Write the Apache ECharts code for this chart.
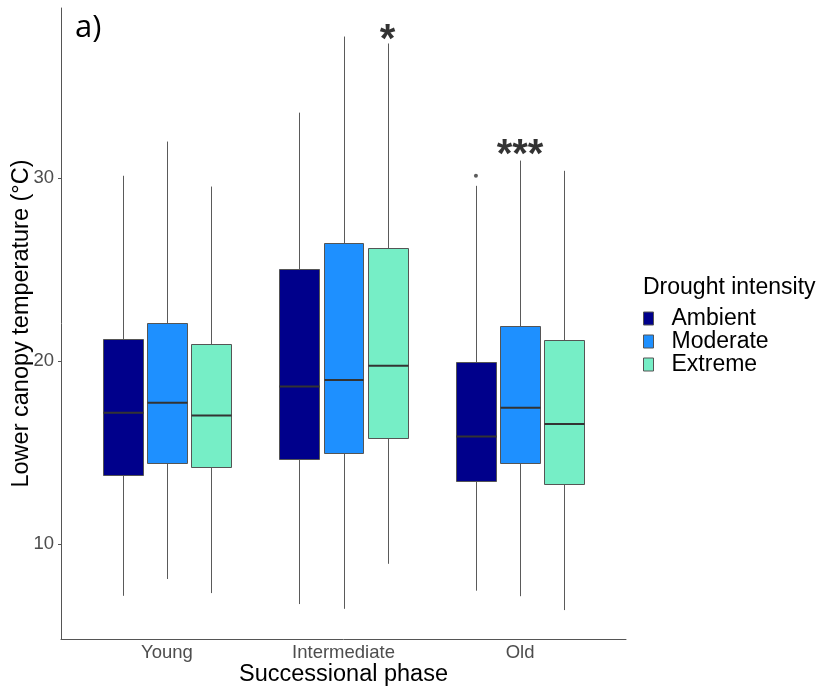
<!DOCTYPE html>
<html>
<head>
<meta charset="utf-8">
<script src="https://cdn.jsdelivr.net/npm/echarts@6/dist/echarts.min.js"></script>
<style>
  html, body { margin: 0; padding: 0; background: #fff; }
  #chart { width: 826px; height: 691px; }
</style>
</head>
<body>
<div id="chart"></div>
<script>
// Successional phases on the x axis
const categories = ['Young', 'Intermediate', 'Old'];
// Drought treatments, one box per phase each
const groups = ['Ambient', 'Moderate', 'Extreme'];
const groupColors = ['#00008B', '#1E90FF', '#76EEC6'];

// Five-number summaries per phase: [lower whisker, Q1, median, Q3, upper whisker] (°C)
const ambient = [
  [7.17, 13.79, 17.17, 21.20, 30.13],
  [6.72, 14.66, 18.61, 25.03, 33.58],
  [7.45, 13.46, 15.88, 19.95, 29.58]
];
const moderate = [
  [8.09, 14.43, 17.72, 22.08, 32.00],
  [6.46, 14.95, 18.96, 26.43, 37.74],
  [7.15, 14.43, 17.45, 21.93, 30.96]
];
const extreme = [
  [7.32, 14.21, 17.03, 20.93, 29.54],
  [8.92, 15.81, 19.74, 26.19, 37.36],
  [6.39, 13.30, 16.56, 21.13, 30.40]
];

// Points beyond the whiskers: [phase, treatment, value]
const outliers = [
  ['Old', 'Ambient', 30.13]
];

// Significance marks: [phase, treatment, label height, label]
const significance = [
  ['Intermediate', 'Extreme', 37.5, '*'],
  ['Old', 'Moderate', 31.2, '***']
];

const yTicks = [10, 20, 30];

const summaries = [ambient, moderate, extreme];
const DODGE = 0.25;          // spacing between treatments within a phase
const BOX_HALF = 0.1125;     // half of a box's width, in category units

function groupX(catName, groupName) {
  const c = categories.indexOf(catName);
  const g = groups.indexOf(groupName);
  return c + 1 + (g - 1) * DODGE;
}

function crisp(v) { return Math.round(v) + 0.5; }

function renderBox(params, api) {
  const x = api.value(0);
  const lo = api.value(1), q1 = api.value(2), med = api.value(3), q3 = api.value(4), hi = api.value(5);
  const cx = crisp(api.coord([x, q3])[0]);
  const left = Math.round(api.coord([x - BOX_HALF, q3])[0]) + 0.5;
  const right = Math.round(api.coord([x + BOX_HALF, q3])[0]) + 0.5;
  const yHi = api.coord([x, hi])[1];
  const yQ3 = crisp(api.coord([x, q3])[1]);
  const yMed = api.coord([x, med])[1];
  const yQ1 = crisp(api.coord([x, q1])[1]);
  const yLo = api.coord([x, lo])[1];
  const lineStyle = { stroke: '#5a5a5a', lineWidth: 1 };
  return {
    type: 'group',
    children: [
      { type: 'line', shape: { x1: cx, y1: yHi, x2: cx, y2: yQ3 }, style: lineStyle },
      { type: 'line', shape: { x1: cx, y1: yQ1, x2: cx, y2: yLo }, style: lineStyle },
      {
        type: 'rect',
        shape: { x: left, y: yQ3, width: right - left, height: yQ1 - yQ3 },
        style: { fill: api.visual('color'), stroke: '#555555', lineWidth: 1 }
      },
      { type: 'line', shape: { x1: left, y1: yMed, x2: right, y2: yMed }, style: { stroke: '#333333', lineWidth: 2 } }
    ]
  };
}

const boxSeries = groups.map((g, gi) => ({
  name: g,
  type: 'custom',
  renderItem: renderBox,
  itemStyle: { color: groupColors[gi] },
  encode: { x: 0, y: [1, 2, 3, 4, 5] },
  data: categories.map((c, ci) => [groupX(c, g)].concat(summaries[gi][ci])),
  z: 2
}));

const outlierSeries = {
  name: 'outliers',
  type: 'scatter',
  symbol: 'circle',
  symbolSize: 4,
  itemStyle: { color: '#333333' },
  data: outliers.map(o => [groupX(o[0], o[1]), o[2]]),
  z: 3,
  silent: true
};

const sigSeries = {
  name: 'significance',
  type: 'scatter',
  symbolSize: 0,
  data: significance.map(s => ({ value: [groupX(s[0], s[1]), s[2]], label: { formatter: s[3] } })),
  label: {
    show: true,
    position: 'inside',
    color: '#000000',
    fontSize: 40,
    fontWeight: 'bold',
    fontFamily: 'Liberation Sans, Arial, sans-serif'
  },
  z: 4,
  silent: true
};

const chart = echarts.init(document.getElementById('chart'), null, { renderer: 'canvas' });

chart.setOption({
  animation: false,
  backgroundColor: '#ffffff',
  textStyle: { fontFamily: 'Liberation Sans, Arial, sans-serif' },
  title: [
    {
      text: 'a)',
      left: 70,
      top: 8,
      textStyle: { fontSize: 31, fontWeight: 'normal', color: '#000', fontFamily: 'Open Sans, Liberation Sans, sans-serif' }
    },
    {
      text: 'Drought intensity',
      left: 638,
      top: 271,
      textStyle: { fontSize: 23, fontWeight: 'normal', color: '#000' }
    }
  ],
  legend: {
    data: groups.map(g => ({ name: g, icon: 'rect' })),
    orient: 'vertical',
    left: 643,
    top: 307,
    padding: 0,
    itemWidth: 10,
    itemHeight: 13,
    itemGap: 0,
    itemStyle: { borderColor: '#555555', borderWidth: 1 },
    textStyle: { fontSize: 23, color: '#000', lineHeight: 22, padding: [0, 0, 0, 13] },
    selectedMode: false
  },
  grid: { left: 61, right: 200, top: 8, bottom: 52, containLabel: false, outerBoundsMode: 'none' },
  xAxis: {
    type: 'value',
    min: 0.4,
    max: 3.6,
    name: 'Successional phase',
    nameLocation: 'middle',
    nameGap: 24,
    nameMoveOverlap: false,
    nameTextStyle: { fontSize: 23.5, color: '#000' },
    axisLine: { show: true, lineStyle: { color: '#555555', width: 1 } },
    axisTick: { show: false },
    axisLabel: {
      customValues: [1, 2, 3],
      formatter: v => categories[Math.round(v) - 1] || '',
      fontSize: 18.5,
      color: '#4d4d4d',
      margin: 4
    },
    splitLine: { show: false }
  },
  yAxis: {
    type: 'value',
    min: 4.81,
    max: 39.3,
    name: 'Lower canopy temperature (°C)',
    nameLocation: 'middle',
    nameGap: 27,
    nameMoveOverlap: false,
    nameTextStyle: { fontSize: 23.5, color: '#000' },
    axisLine: { show: true, lineStyle: { color: '#555555', width: 1 } },
    axisTick: { show: true, length: 3, customValues: yTicks, lineStyle: { color: '#555555' } },
    axisLabel: { customValues: yTicks, fontSize: 18.5, color: '#4d4d4d', margin: 7 },
    splitLine: { show: false }
  },
  series: boxSeries.concat([outlierSeries, sigSeries])
});
</script>
</body>
</html>
